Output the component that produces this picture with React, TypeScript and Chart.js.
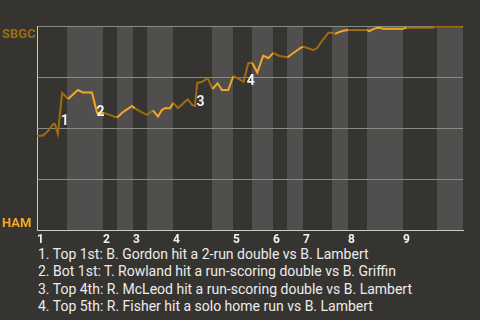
import React, { useEffect, useRef } from "react";
import { Chart, registerables } from "chart.js";

Chart.register(...registerables);

// Game progress (% of game, left to right) and SBGC win probability (%)
const progress = [
  0, 1.4, 2.6, 3.8, 4.2, 4.9, 5.9, 7.3, 9.6, 10.8, 12.9, 14.1, 15.7, 18.8, 20.2,
  22.3, 23.0, 24.2, 25.8, 27.2, 28.4, 29.3, 30.0, 31.2, 32.0, 33.1, 35.4, 36.4,
  37.1, 37.6, 38.8, 40.1, 41.2, 42.4, 43.4, 44.9, 46.1, 47.0, 48.5, 49.6, 50.5,
  51.7, 53.1, 54.3, 55.5, 56.9, 58.8, 60.6, 61.7, 62.5, 63.7, 64.9, 65.7, 66.4,
  67.2, 68.4, 69.2, 70.0, 70.7, 71.9, 73.0, 77.5, 78.0, 78.9, 80.1, 81.3, 85.9,
  86.8, 93.0, 93.4, 99.9, 100,
];
const sbgcWinPct = [
  46.1, 46.3, 48.5, 52.0, 52.0, 47.1, 67.2, 64.2, 68.6, 67.4, 67.4, 57.4, 57.4,
  55.1, 57.8, 60.8, 59.6, 58.1, 56.4, 58.6, 55.6, 58.8, 59.7, 59.7, 62.3, 59.8,
  64.1, 61.3, 60.8, 72.1, 72.7, 74.4, 69.1, 71.9, 68.6, 68.6, 75.5, 74.4, 72.7,
  81.9, 82.0, 77.2, 85.5, 84.2, 86.8, 85.3, 84.7, 87.4, 89.1, 89.9, 89.1, 88.2,
  89.1, 91.2, 93.5, 96.7, 96.7, 96.1, 96.9, 97.7, 98.0, 98.0, 97.5, 98.5, 99.2,
  98.7, 98.7, 99.2, 99.2, 99.7, 99.7, 100,
];

// Start of each half inning (top 1st, bottom 1st, top 2nd, ...)
const halfInningStarts = [
  0, 7.04, 15.49, 18.78, 22.54, 25.82, 31.92, 41.08, 46.01, 50.47, 55.4, 58.69,
  62.44, 69.25, 73.0, 77.46, 85.92, 93.9,
];
const inningStarts = [0, 15.49, 22.54, 31.92, 46.01, 55.4, 62.44, 73.0, 85.92];
const inningLabels = ["1", "2", "3", "4", "5", "6", "7", "8", "9"];

const eventLabels = ["1", "2", "3", "4"];
const eventX = [6.5, 14.9, 38.4, 50.2];
const eventY = [53.4, 57.6, 62.7, 73.0];

const notes = [
  "1. Top 1st: B. Gordon hit a 2-run double vs B. Lambert",
  "2. Bot 1st: T. Rowland hit a run-scoring double vs B. Griffin",
  "3. Top 4th: R. McLeod hit a run-scoring double vs B. Lambert",
  "4. Top 5th: R. Fisher hit a solo home run vs B. Lambert",
];

const teamTop = "SBGC";
const teamBottom = "HAM";

const BG = "#363431";
const BAND = "#504f4d";
const GRID = "#8a8985";
const AXIS = "#c9c9c7";
const DARK = "#a06c12";
const BRIGHT = "#f5a623";
const FONT = "Roboto, 'Noto Sans', sans-serif";

function isTopHalf(x: number) {
  let idx = 0;
  for (let i = 0; i < halfInningStarts.length; i++) {
    if (x >= halfInningStarts[i]) idx = i;
  }
  return idx % 2 === 0;
}

export default function App() {
  const ref = useRef<HTMLCanvasElement | null>(null);

  useEffect(() => {
    document.body.style.margin = "0";
    document.body.style.background = BG;
    const canvas = ref.current;
    if (!canvas) return;

    const bandsPlugin = {
      id: "bands",
      beforeDraw(chart: any) {
        const { ctx, chartArea: a, scales } = chart;
        const x = scales.x;
        ctx.save();
        ctx.fillStyle = BAND;
        for (let i = 1; i < halfInningStarts.length; i += 2) {
          const x0 = x.getPixelForValue(halfInningStarts[i]);
          const end = i + 1 < halfInningStarts.length ? halfInningStarts[i + 1] : x.max;
          const x1 = x.getPixelForValue(end);
          ctx.fillRect(x0, a.top, x1 - x0, a.bottom - a.top);
        }
        ctx.restore();
      },
      afterDraw(chart: any) {
        const { ctx, scales } = chart;
        const x = scales.x;
        const y = scales.y;
        ctx.save();
        ctx.font = `bold 13px ${FONT}`;
        ctx.textAlign = "left";
        ctx.textBaseline = "alphabetic";
        ctx.fillStyle = DARK;
        ctx.fillText(teamTop, 2, y.getPixelForValue(100) + 12);
        ctx.fillStyle = BRIGHT;
        ctx.fillText(teamBottom, 2, y.getPixelForValue(0) - 3);

        ctx.font = `bold 14px ${FONT}`;
        ctx.fillStyle = "#f2f2f2";
        ctx.textAlign = "center";
        ctx.textBaseline = "middle";
        eventLabels.forEach((lab, i) => {
          ctx.fillText(lab, x.getPixelForValue(eventX[i]), y.getPixelForValue(eventY[i]));
        });
        ctx.restore();
      },
    };

    const chart = new Chart(canvas, {
      type: "line",
      data: {
        datasets: [
          {
            data: progress.map((p, i) => ({ x: p, y: sbgcWinPct[i] })),
            borderColor: BRIGHT,
            borderWidth: 2,
            pointRadius: 0,
            tension: 0,
            fill: false,
            segment: {
              borderColor: (c: any) => (isTopHalf(c.p0.parsed.x) ? DARK : BRIGHT),
            },
          },
        ],
      },
      options: {
        responsive: false,
        animation: false,
        devicePixelRatio: 1,
        layout: { padding: { top: 26, right: 17, left: 0, bottom: 0 } },
        plugins: { legend: { display: false }, tooltip: { enabled: false } },
        scales: {
          x: {
            type: "linear",
            min: 0,
            max: 100,
            afterBuildTicks: (s: any) => {
              s.ticks = inningStarts.map((v) => ({ value: v }));
            },
            afterFit: (s: any) => {
              s.height = 16;
            },
            grid: { display: false, drawTicks: false },
            border: { display: true, color: AXIS, width: 1 },
            ticks: {
              align: "start",
              padding: 3,
              color: "#f2f2f2",
              font: { family: FONT, size: 12, weight: "bold" },
              maxRotation: 0,
              autoSkip: false,
              callback: (_v: any, i: number) => inningLabels[i],
            },
          },
          y: {
            min: 0,
            max: 100,
            afterFit: (s: any) => {
              s.width = 37;
            },
            ticks: { display: false, stepSize: 25 },
            grid: {
              color: (c: any) => (c.tick && c.tick.value === 0 ? AXIS : GRID),
              drawTicks: false,
              lineWidth: 1,
            },
            border: { display: true, color: AXIS, width: 1 },
          },
        },
      },
      plugins: [bandsPlugin],
    });
    return () => chart.destroy();
  }, []);

  return (
    <div style={{ position: "relative", width: 480, height: 320, background: BG, overflow: "hidden" }}>
      <canvas ref={ref} width={480} height={246} style={{ position: "absolute", left: 0, top: 0, width: 480, height: 246 }} />
      <div
        style={{
          position: "absolute",
          left: 38,
          top: 245.8,
          fontFamily: FONT,
          fontSize: 14,
          lineHeight: "17.5px",
          color: "#ececec",
          whiteSpace: "nowrap",
        }}
      >
        {notes.map((n, i) => (
          <div key={i}>{n}</div>
        ))}
      </div>
    </div>
  );
}
